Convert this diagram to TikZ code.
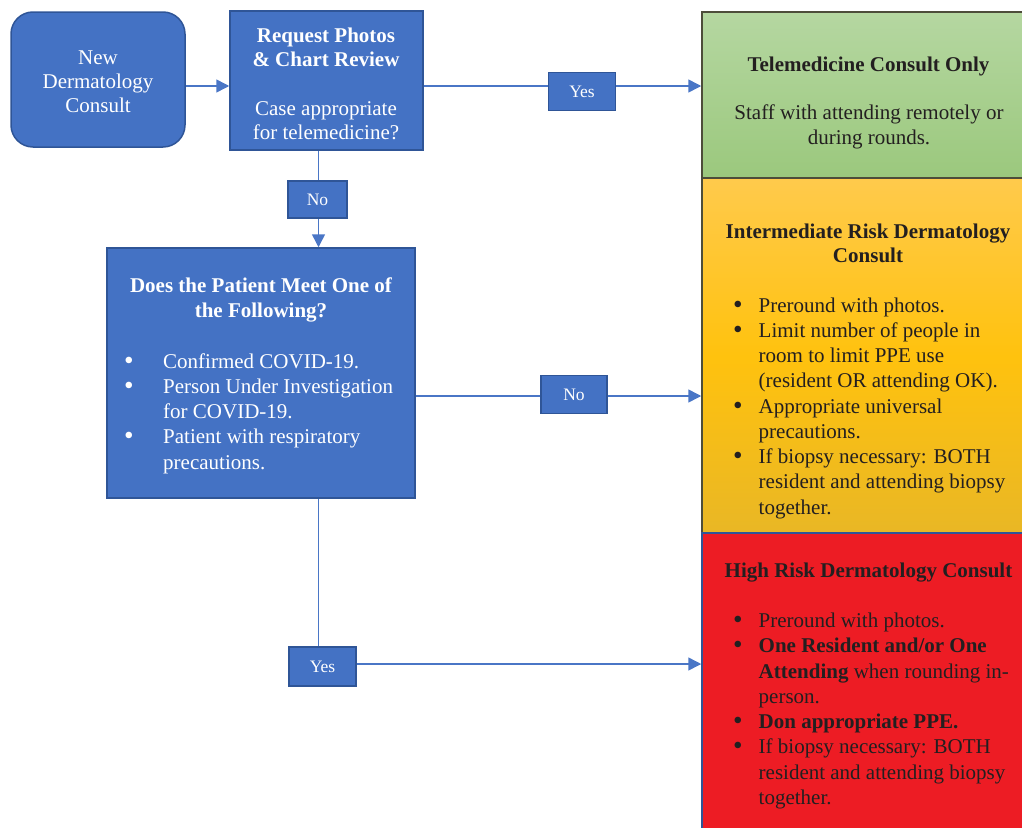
\documentclass[tikz,border=0pt]{standalone}
\usepackage{fontspec}
\setmainfont{Liberation Serif}
\usetikzlibrary{arrows.meta,calc}
\definecolor{boxblue}{HTML}{4472C4}
\definecolor{boxedge}{HTML}{2F5597}
\definecolor{linkblue}{HTML}{4A76C6}
\definecolor{darktext}{HTML}{231F20}
\definecolor{greentop}{HTML}{B5D7A1}
\definecolor{greenbot}{HTML}{9BC87D}
\definecolor{yeltop}{HTML}{FFCA4C}
\definecolor{yelmid}{HTML}{FFC20E}
\definecolor{yelbot}{HTML}{E9B725}
\definecolor{riskred}{HTML}{ED1C24}
\definecolor{paneledge}{HTML}{4D4D3A}
\newcommand{\bigbul}{\smash{\raisebox{-1pt}{\scalebox{1.3}{\textbullet}}}}
\newcommand{\bulA}{\makebox[25pt][l]{\hspace{-0.5pt}\bigbul}}
\newcommand{\bulB}{\makebox[38.5pt][l]{\hspace{-0.5pt}\bigbul}}
\tikzset{
  bluebox/.style={draw=boxedge, line width=1.5pt, fill=boxblue, inner sep=0pt},
  lbl/.style={draw=boxedge, line width=1.5pt, fill=boxblue, text=white, inner sep=0pt,
    font=\fontsize{17.5}{20}\selectfont},
  panel/.style={draw=paneledge, line width=1.5pt, inner sep=0pt, minimum width=328pt},
  wtext/.style={text=white, align=center, inner sep=0pt, font=\fontsize{21}{24}\selectfont},
  wbold/.style={text=white, align=center, inner sep=0pt, font=\fontsize{21}{24.5}\selectfont\bfseries},
  dtext/.style={text=darktext, align=center, inner sep=0pt, font=\fontsize{21}{25}\selectfont},
  dbold/.style={text=darktext, align=center, inner sep=0pt, font=\fontsize{21}{24}\selectfont\bfseries},
  wlist/.style={text=white, inner sep=0pt, anchor=west, font=\fontsize{21}{25.25}\selectfont},
  dlist/.style={text=darktext, inner sep=0pt, anchor=west, font=\fontsize{21}{25.25}\selectfont},
  link/.style={draw=linkblue, line width=1.5pt},
  arr/.style={link, -{Triangle[length=13pt,width=13pt]}}
}
\begin{document}
\begin{tikzpicture}[x=1pt,y=-1pt]
\useasboundingbox (0,0) rectangle (1022,827);
\clip (0,0) rectangle (1022,827);

% right-hand panels
\node[panel, top color=greentop, bottom color=greenbot, minimum height=166pt] (tele) at (866,95) {};
\node[panel, top color=yeltop, bottom color=yelbot, middle color=yelmid, minimum height=355pt] (int) at (866,355.5) {};
\node[panel, draw=boxedge, fill=riskred, minimum height=310pt] (hr) at (866,688) {};

% left boxes
\node[bluebox, rounded corners=22pt, minimum width=174pt, minimum height=135pt] (new) at (98,79.5) {};
\node[wtext] (newtxt) at (98,82) {New\\Dermatology\\Consult};
\node[bluebox, minimum width=193pt, minimum height=139pt] (req) at (326.5,80.5) {};
\node[wbold] (reqtitle) at (326,47.5) {Request Photos\\\& Chart Review};
\node[wtext] (reqbody) at (326,121) {Case appropriate\\for telemedicine?};
\node[bluebox, minimum width=308pt, minimum height=250pt] (does) at (261,373) {};
\node[wbold] (doestitle) at (261,300) {Does the Patient Meet One of\\the Following?};
\node[wlist] (doeslist) at (124.5,413.5) {\begin{tabular}{@{}l@{}l@{}}
\bulB & Confirmed COVID-19.\\
\bulB & Person Under Investigation\\
 & for COVID-19.\\
\bulB & Patient with respiratory\\
 & precautions.
\end{tabular}};

% panel texts
\node[dbold] (teletitle) at (868.5,66.5) {Telemedicine Consult Only};
\node[dtext] (telebody) at (869,127) {Staff with attending remotely or\\during rounds.};
\node[dbold] (inttitle) at (868,243.5) {Intermediate Risk Dermatology\\Consult};
\node[dlist] (intlist) at (733.5,408) {\begin{tabular}{@{}l@{}l@{}}
\bulA & Preround with photos.\\
\bulA & Limit number of people in\\
 & room to limit PPE use\\
 & (resident OR attending OK).\\
\bulA & Appropriate universal\\
 & precautions.\\
\bulA & If biopsy necessary: BOTH\\
 & resident and attending biopsy\\
 & together.
\end{tabular}};
\node[dbold] (hrtitle) at (868.5,573) {High Risk Dermatology Consult};
\node[dlist] (hrlist) at (733.5,711) {\begin{tabular}{@{}l@{}l@{}}
\bulA & Preround with photos.\\
\bulA & \textbf{One Resident and/or One}\\
 & \textbf{Attending} when rounding in-\\
 & person.\\
\bulA & \textbf{Don appropriate PPE.}\\
\bulA & If biopsy necessary: BOTH\\
 & resident and attending biopsy\\
 & together.
\end{tabular}};

% label boxes
\node[lbl, minimum width=67pt, minimum height=38pt] (yes1) at (582,91.5) {Yes};
\node[lbl, minimum width=59pt, minimum height=37pt] (no1) at (317.5,199.5) {No};
\node[lbl, minimum width=66pt, minimum height=38pt] (no2) at (574,394.5) {No};
\node[lbl, minimum width=67pt, minimum height=39pt] (yes2) at (322.5,666.5) {Yes};

% connector levels
\coordinate (ya) at (0,86);
\coordinate (yb) at (0,396);
\coordinate (yc) at (0,664);
\coordinate (xa) at (318.5,0);

% connectors
\draw[arr] (new.east |- ya) -- (req.west |- ya);
\draw[link] (req.east |- ya) -- (yes1.west |- ya);
\draw[arr] (yes1.east |- ya) -- (tele.west |- ya);
\draw[link] (req.south -| xa) -- (no1.north -| xa);
\draw[arr] (no1.south -| xa) -- (does.north -| xa);
\draw[link] (does.east |- yb) -- (no2.west |- yb);
\draw[arr] (no2.east |- yb) -- (int.west |- yb);
\draw[link] (does.south -| xa) -- (yes2.north -| xa);
\draw[arr] (yes2.east |- yc) -- (hr.west |- yc);
\end{tikzpicture}
\end{document}
